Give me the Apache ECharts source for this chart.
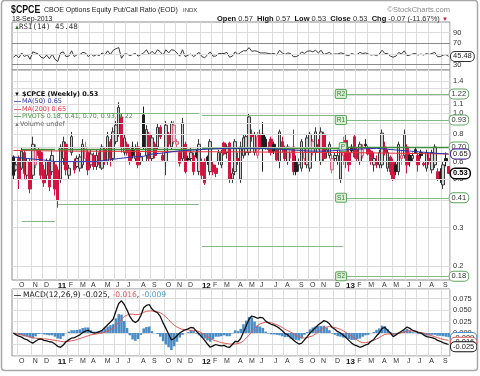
<!DOCTYPE html>
<html><head><meta charset="utf-8">
<script src="https://cdn.jsdelivr.net/npm/echarts@6/dist/echarts.min.js"></script>
<style>html,body{margin:0;padding:0;background:#fff;}#chart{width:480px;height:376px;}</style>
</head><body><div id="chart"></div>
<script>
// ---------------- data ----------------
const firstWeek = '2010-09-17';
const weekCount = 158;
const opens = [.63,.55,.62,.56,.66,.52,.60,.52,.58,.68, .66,.55,.52,.60,.54,.58,.55,.50,.62,.72, .52,.66,.60,.57,.56,.58,.62,.66,.58,.64,
 .57,.66,.56,.68,.60,.74,.62,.74,.80,.96, .66,.72,.68,.70,.62,.70,.60,.98,.64,.80, .62,.72,.70,.86,.64,.60,.80,.70,.74,.72,
 .66,.62,.72,.62,.62,.64,.66,.54,.60,.60, .63,.54,.58,.56,.60,.58,.73,.66,.73,.50, .54,.62,.50,.64,.66,.66,.80,.66,.64,.80,
 .80,.76,.70,.76,.72,.68,.60,.74,.69,.60, .66,.70,.60,.58,.56,.62,.58,.56,.66,.66, .72,.60,.80,.66,.64,.55,.62,.60,.50,.64,
 .75,.66,.70,.78,.68,.60,.64,.72,.69,.67, .58,.60,.58,.58,.70,.56,.63,.60,.58,.54, .62,.64,.70,.64,.62,.68,.64,.66,.59,.56,
 .62,.55,.58,.54,.54,.47,.62,.57];
const highs = [.64,.60,.64,.70,.68,.62,.62,.78,.72,.70, .68,.58,.62,.62,.68,.60,.57,.72,.78,.74, .58,.82,.62,.64,.65,.76,.74,.68,.68,.66,
 .68,.68,.72,.70,.82,.76,.86,.92,1.12,1.00, .80,.74,.70,.74,.72,.74,.66,1.07,.88,.82, .80,.74,.90,.88,.66,.92,.82,.92,.92,.76,
 .68,.95,.74,.64,.70,.66,.68,.76,.62,.62, .64,.76,.60,.58,.68,.68,.74,.72,.74,.56, .76,.66,.74,.80,.80,.99,.84,.82,.82,.84,
 .91,.78,.74,.78,.74,.70,.84,.78,.71,.72, .70,.84,.64,.62,.76,.70,.80,.82,.76,.86, .76,.86,.82,.70,.74,.65,.66,.68,.72,.78,
 .80,.70,.72,.80,.70,.74,.72,.76,.71,.68, .66,.64,.68,.84,.74,.68,.64,.62,.60,.74, .68,.84,.72,.66,.66,.70,.66,.68,.60,.68,
 .66,.68,.72,.56,.56,.60,.66,.57];
const lows = [.50,.54,.45,.55,.50,.50,.43,.50,.56,.62, .50,.46,.50,.44,.52,.42,.37,.48,.58,.52, .50,.64,.53,.56,.54,.56,.60,.52,.56,.55,
 .55,.56,.55,.58,.58,.57,.60,.72,.78,.66, .64,.64,.58,.62,.60,.56,.58,.68,.60,.60, .60,.62,.68,.76,.60,.52,.70,.68,.72,.70,
 .57,.60,.53,.60,.60,.52,.62,.52,.50,.47, .58,.52,.52,.51,.58,.56,.64,.62,.48,.48, .52,.58,.48,.62,.64,.64,.74,.64,.62,.68,
 .54,.68,.66,.64,.65,.60,.56,.66,.60,.58, .62,.52,.52,.54,.54,.58,.56,.54,.64,.60, .68,.58,.60,.62,.62,.53,.60,.58,.48,.58,
 .56,.54,.66,.62,.60,.58,.62,.70,.64,.58, .54,.56,.56,.56,.64,.54,.52,.49,.52,.52, .58,.62,.53,.57,.60,.65,.54,.62,.57,.54,
 .58,.53,.56,.49,.48,.45,.57,.53];
const closes = [.52,.58,.50,.67,.53,.60,.45,.72,.68,.64, .52,.48,.60,.46,.64,.45,.40,.70,.74,.55, .56,.78,.55,.62,.63,.72,.70,.55,.65,.57,
 .64,.58,.70,.60,.78,.62,.82,.88,1.06,.70, .77,.66,.60,.64,.68,.58,.63,.70,.84,.62, .77,.64,.86,.78,.61,.88,.72,.90,.88,.74,
 .59,.90,.54,.61,.66,.54,.63,.72,.52,.48, .60,.74,.54,.53,.66,.66,.65,.70,.50,.53, .74,.60,.70,.77,.78,.96,.78,.80,.78,.70,
 .70,.70,.68,.66,.67,.61,.82,.70,.62,.70, .68,.54,.54,.60,.74,.66,.77,.80,.74,.82, .70,.82,.62,.68,.72,.62,.64,.64,.70,.66,
 .60,.58,.67,.63,.62,.72,.68,.71,.65,.60, .62,.58,.66,.81,.66,.66,.54,.50,.54,.72, .64,.80,.58,.60,.64,.66,.58,.64,.58,.66,
 .60,.66,.70,.50,.50,.58,.60,.53];
const rsi14 = [44,48,43,52,45,49,40,54,52,50, 44,42,48,41,50,40,36,52,54,45, 46,56,45,49,49,53,52,45,50,46,
 49,47,52,48,56,49,57,60,62,42, 50,50,47,49,51,46,49,52,58,49, 55,50,58,54,48,58,52,58,57,52,
 46,58,45,48,50,45,49,53,45,43, 48,54,46,46,51,51,51,53,44,46, 54,49,53,56,56,62,55,56,55,52,
 52,52,51,50,51,48,57,52,49,52, 51,45,45,48,54,51,55,56,54,57, 52,57,49,51,53,49,50,50,52,51,
 48,47,51,49,49,53,51,52,50,48, 49,47,50,57,51,51,46,44,46,53, 50,56,47,48,50,51,48,50,48,51,
 49,51,53,45,45,48,49,45.48];
const macdLine = [0.000,-0.004,-0.007,-0.009,-0.013,-0.015,-0.019,-0.022,-0.018,-0.014,
 -0.013,-0.016,-0.017,-0.019,-0.020,-0.024,-0.029,-0.031,-0.026,-0.019,
 -0.015,-0.011,-0.010,-0.007,-0.004,0.001,0.004,0.006,0.002,0.000,
 0.001,0.003,0.006,0.012,0.018,0.024,0.030,0.048,0.064,0.070,
 0.062,0.050,0.036,0.027,0.023,0.027,0.038,0.055,0.060,0.062,
 0.052,0.047,0.044,0.036,0.022,0.010,-0.002,-0.015,-0.012,-0.006,
 0.000,0.004,0.007,0.009,0.012,0.011,0.004,-0.002,-0.009,-0.016,
 -0.024,-0.031,-0.028,-0.025,-0.027,-0.028,-0.027,-0.030,-0.031,-0.025,
 -0.018,-0.019,-0.012,0.002,0.016,0.030,0.037,0.035,0.032,0.034,
 0.033,0.026,0.022,0.019,0.017,0.014,0.010,0.005,-0.001,-0.004,
 -0.010,-0.015,-0.020,-0.024,-0.022,-0.015,-0.008,0.000,0.006,0.012,
 0.018,0.022,0.027,0.025,0.020,0.012,0.008,0.003,0.000,-0.005,
 -0.010,-0.016,-0.022,-0.026,-0.028,-0.031,-0.029,-0.026,-0.024,-0.018,
 -0.014,-0.006,0.000,0.010,0.012,0.006,0.000,-0.008,-0.004,0.000,
 0.004,0.008,0.013,0.010,0.006,0.004,0.001,0.000,-0.004,-0.008,
 -0.009,-0.010,-0.012,-0.016,-0.018,-0.021,-0.023,-0.025];
const signalLine = [0.000,-0.001,-0.003,-0.004,-0.006,-0.007,-0.009,-0.010,-0.011,-0.012,
 -0.012,-0.013,-0.013,-0.014,-0.015,-0.016,-0.017,-0.018,-0.019,-0.019,
 -0.018,-0.017,-0.016,-0.014,-0.012,-0.010,-0.008,-0.006,-0.004,-0.003,
 -0.002,-0.001,0.000,0.002,0.004,0.007,0.011,0.016,0.023,0.030,
 0.036,0.039,0.041,0.041,0.040,0.040,0.042,0.045,0.047,0.048,
 0.048,0.047,0.046,0.044,0.040,0.035,0.029,0.022,0.017,0.013,
 0.010,0.008,0.007,0.007,0.006,0.006,0.005,0.003,0.000,-0.004,
 -0.008,-0.012,-0.015,-0.017,-0.019,-0.021,-0.022,-0.023,-0.024,-0.024,
 -0.024,-0.023,-0.021,-0.017,-0.011,-0.005,0.003,0.010,0.016,0.020,
 0.022,0.023,0.023,0.022,0.020,0.018,0.015,0.012,0.008,0.005,
 0.002,-0.001,-0.005,-0.008,-0.010,-0.011,-0.010,-0.008,-0.006,-0.002,
 0.003,0.007,0.011,0.013,0.014,0.013,0.012,0.010,0.008,0.005,
 0.001,-0.003,-0.007,-0.011,-0.015,-0.019,-0.021,-0.021,-0.020,-0.018,
 -0.016,-0.013,-0.010,-0.006,-0.003,-0.002,-0.002,-0.003,-0.002,-0.001,
 0.001,0.002,0.004,0.005,0.004,0.003,0.002,0.001,0.000,-0.002,
 -0.004,-0.006,-0.008,-0.010,-0.012,-0.014,-0.015,-0.016];
const ma50Weeks = [0,5,11,15,19,24,29,34,38,43,47,50,54,59,65,71,77,83,89,95,101,107,113,119,125,131,138,143,147,151,157];
const ma50Vals  = [.63,.62,.61,.60,.60,.60,.60,.61,.62,.63,.635,.65,.657,.67,.678,.685,.69,.69,.69,.685,.678,.67,.67,.678,.685,.69,.678,.67,.664,.657,.65];
const ma200Weeks = [0,20,40,60,80,100,120,140,157];
const ma200Vals  = [.675,.67,.668,.666,.665,.662,.66,.655,.65];
const pivotStart = ['2010-10-08','2011-01-07','2012-01-06','2013-01-04'];
const pivotEnd   = ['2010-12-31','2011-12-30','2012-12-28','2013-09-20'];
const pivotNames = ['R2','R1','P','S1','S2'];
const pivotR2 = [null, null, null, 1.22];
const pivotR1 = [null, 1.00, 0.98, 0.93];
const pivotP  = [0.68, 0.685, 0.69, 0.70];
const pivotS1 = [0.322, 0.384, 0.247, 0.41];
const pivotS2 = [null, null, null, 0.18];
const priceTicks = [0.2,0.3,0.4,0.5,0.6,0.7,0.8,0.9,1.0,1.1,1.2,1.3,1.4];
const priceTickLabels = ['0.2','0.3','','0.5','0.6','','0.8','','1.0','1.1','','','1.4'];
const rsiTickLabels = [90,70,30];
const lastRsi = 45.48, lastClose = 0.53, lastMa50 = 0.65, lastMa200 = 0.65;
const lastMacd = -0.025, lastSignal = -0.016, lastHist = -0.009;
const monthLetters = 'JFMAMJJASOND';

// ---------------- build ----------------
const arial = '"Liberation Sans", Arial, sans-serif';
const sans = '"DejaVu Sans", Verdana, sans-serif';
const mono = '"DejaVu Sans Mono", monospace';
const t0 = Date.parse(firstWeek + 'T00:00:00Z');
const dates = [];
for (let i = 0; i < weekCount; i++) dates.push(new Date(t0 + i * 7 * 86400000).toISOString().slice(0, 10));
const isMonthStart = dates.map((d, i) => i > 0 && d.slice(5, 7) !== dates[i - 1].slice(5, 7));
const HIDDEN = 'rgba(0,0,0,0)';

function styleFor(i) {
  const o = opens[i], c = closes[i];
  const hollow = c > o;
  const black = i === 0 ? true : c >= closes[i - 1];
  let fill, border;
  if (hollow && black) { fill = '#d2d2d2'; border = '#3a3a3a'; }
  else if (hollow) { fill = '#f7d3dc'; border = '#e2627f'; }
  else if (black) { fill = '#1e1e1e'; border = '#1e1e1e'; }
  else { fill = '#d3163f'; border = '#d3163f'; }
  return { color: fill, color0: fill, borderColor: border, borderColor0: border, borderWidth: 1 };
}
const candleData = dates.map((d, i) => ({ value: [opens[i], closes[i], lows[i], highs[i]], itemStyle: styleFor(i) }));
const histData = macdLine.map((m, i) => +(m - signalLine[i]).toFixed(4));

function boxStyle(text, border, over) {
  return Object.assign({ show: true, position: 'end', distance: 1, formatter: text, color: '#222', fontSize: 7.5, fontFamily: arial,
    backgroundColor: '#fff', borderColor: border, borderWidth: 1, borderRadius: 4, padding: [0, 2, 0, 2], lineHeight: 9 }, over || {});
}
function boxLabel(v, text, border, over) {
  return { yAxis: v, lineStyle: { color: HIDDEN, width: 0 }, label: boxStyle(text, border, over) };
}

const pivotSets = [pivotR2, pivotR1, pivotP, pivotS1, pivotS2];
const pivotLines = [];
for (let k = 0; k < pivotStart.length; k++) {
  pivotSets.forEach((arr, j) => {
    const v = arr[k];
    if (v == null) return;
    const isP = pivotNames[j] === 'P';
    const current = k === pivotStart.length - 1;
    pivotLines.push([
      { coord: [pivotStart[k], v], lineStyle: { color: isP ? '#3f8f3f' : '#86b886', width: isP ? 1.3 : 1, type: 'solid' },
        label: current ? boxStyle(v.toFixed(2), '#5ea55e', { color: '#333' }) : { show: false } },
      { coord: [pivotEnd[k], v] }
    ]);
    if (current) {
      pivotLines.push([
        { coord: [pivotStart[k], v], lineStyle: { color: HIDDEN, width: 0 },
          label: { show: true, position: 'start', distance: 0, formatter: pivotNames[j], color: '#3a7a3a', fontSize: 6.5, fontFamily: arial,
            backgroundColor: '#d9efd4', borderColor: '#5ea55e', borderWidth: 1, borderRadius: 1, padding: [0, 1, 0, 1], lineHeight: 8 } },
        { coord: [pivotEnd[k], v] }
      ]);
    }
  });
}

function xAxisFor(gi, showLabels) {
  return {
    type: 'category', gridIndex: gi, data: dates, boundaryGap: true,
    axisLine: { show: false }, axisTick: { show: false },
    axisLabel: showLabels ? {
      show: true, interval: 0, hideOverlap: false,
      formatter: (v, i) => { if (!isMonthStart[i]) return ''; const m = +v.slice(5, 7); return m === 1 ? '{y|' + v.slice(2, 4) + '}' : monthLetters[m - 1]; },
      fontSize: 7, fontFamily: arial, color: '#333', margin: 2, align: 'left',
      rich: { y: { fontSize: 8, fontWeight: 'bold', fontFamily: arial, color: '#111' } }
    } : { show: false },
    splitLine: { show: true, interval: (i) => isMonthStart[i], lineStyle: { color: '#dcdcdc', width: 1 } }
  };
}

const gridBase = { left: 12, width: 438, show: true, borderColor: '#8c8c8c', borderWidth: 1, backgroundColor: '#fff', containLabel: false, outerBoundsMode: 'none' };

const option = {
  animation: false,
  backgroundColor: '#ffffff',
  grid: [
    Object.assign({ top: 22, height: 48 }, gridBase),
    Object.assign({ top: 70, height: 210 }, gridBase),
    Object.assign({ top: 289, height: 67 }, gridBase)
  ],
  xAxis: [xAxisFor(0, false), xAxisFor(1, true), xAxisFor(2, true)],
  yAxis: [
    { type: 'value', gridIndex: 0, position: 'right', min: 20, max: 110, interval: 10,
      axisLine: { show: false }, axisTick: { show: false }, splitLine: { show: false },
      axisLabel: { formatter: (v) => rsiTickLabels.includes(v) ? String(v) : '', fontSize: 7.5, fontFamily: arial, color: '#333', margin: 3 } },
    { type: 'log', gridIndex: 1, position: 'right', min: 0.173, max: 1.571,
      axisLine: { show: false }, axisTick: { show: false }, splitLine: { show: false }, axisLabel: { show: false } },
    { type: 'value', gridIndex: 2, position: 'right', min: -0.05, max: 0.0957, interval: 0.025,
      axisLine: { show: false }, axisTick: { show: false },
      splitLine: { show: true, lineStyle: { color: '#dcdcdc' } },
      axisLabel: { formatter: (v) => (v > -0.001 && v < 0.09) ? v.toFixed(3) : '', fontSize: 7.5, fontFamily: arial, color: '#333', margin: 3 } }
  ],
  series: [
    { type: 'line', name: 'RSI', xAxisIndex: 0, yAxisIndex: 0, data: rsi14, showSymbol: false, smooth: false,
      lineStyle: { color: '#3a3a3a', width: 1 }, z: 3,
      markLine: { symbol: 'none', silent: true, animation: false, data: [
        { yAxis: 90, lineStyle: { color: '#dcdcdc', width: 1, type: 'solid' }, label: { show: false } },
        { yAxis: 50, lineStyle: { color: '#dcdcdc', width: 1, type: 'solid' }, label: { show: false } },
        { yAxis: 70, lineStyle: { color: '#8a8a8a', width: 1, type: 'solid' }, label: { show: false } },
        { yAxis: 30, lineStyle: { color: '#8a8a8a', width: 1, type: 'solid' }, label: { show: false } },
        boxLabel(lastRsi, lastRsi.toFixed(2), '#333')
      ] } },
    { type: 'line', name: 'grid', xAxisIndex: 1, yAxisIndex: 1, data: [], z: 1, silent: true,
      markLine: { symbol: 'none', silent: true, animation: false, data: priceTicks.map((v, k) => ({
        yAxis: v, lineStyle: { color: '#dcdcdc', width: 1, type: 'solid' },
        label: { show: priceTickLabels[k] !== '', position: 'end', distance: 3, formatter: priceTickLabels[k] || ' ', color: '#333', fontSize: 7.5, fontFamily: arial }
      })) } },
    { type: 'candlestick', name: '$CPCE', xAxisIndex: 1, yAxisIndex: 1, data: candleData, barWidth: 3, z: 2,
      markLine: { symbol: 'none', silent: true, animation: false, data: pivotLines } },
    { type: 'line', name: 'MA(200)', xAxisIndex: 1, yAxisIndex: 1, data: ma200Weeks.map((w, k) => [dates[w], ma200Vals[k]]),
      showSymbol: false, smooth: false, lineStyle: { color: '#e8323c', width: 1 }, z: 4,
      markLine: { symbol: 'none', silent: true, animation: false, data: [ boxLabel(lastMa200, lastMa200.toFixed(2), '#e8323c') ] } },
    { type: 'line', name: 'MA(50)', xAxisIndex: 1, yAxisIndex: 1, data: ma50Weeks.map((w, k) => [dates[w], ma50Vals[k]]),
      showSymbol: false, smooth: false, lineStyle: { color: '#2a36a8', width: 1 }, z: 5,
      markLine: { symbol: 'none', silent: true, animation: false, data: [
        boxLabel(lastMa50, lastMa50.toFixed(2), '#2a36a8'),
        boxLabel(lastClose, lastClose.toFixed(2), '#000', { color: '#000', fontWeight: 'bold', borderWidth: 1.5 })
      ] } },
    { type: 'bar', name: 'Hist', xAxisIndex: 2, yAxisIndex: 2, data: histData, barCategoryGap: '8%',
      itemStyle: { color: '#4a8cc6' }, z: 2,
      markLine: { symbol: 'none', silent: true, animation: false, data: [ boxLabel(lastHist, lastHist.toFixed(3), '#4a8cc6') ] } },
    { type: 'line', name: 'Signal', xAxisIndex: 2, yAxisIndex: 2, data: signalLine, showSymbol: false, smooth: false,
      lineStyle: { color: '#e05858', width: 1 }, z: 3,
      markLine: { symbol: 'none', silent: true, animation: false, data: [ boxLabel(lastSignal, lastSignal.toFixed(3), '#e05858') ] } },
    { type: 'line', name: 'MACD', xAxisIndex: 2, yAxisIndex: 2, data: macdLine, showSymbol: false, smooth: false,
      lineStyle: { color: '#111', width: 1.3 }, z: 4,
      markLine: { symbol: 'none', silent: true, animation: false, data: [ boxLabel(lastMacd, lastMacd.toFixed(3), '#111') ] } }
  ],
  graphic: [
    { type: 'rect', silent: true, z: 100, shape: { x: 1.5, y: 0.5, width: 476, height: 370, r: 3 }, style: { fill: 'none', stroke: '#a8a8a8', lineWidth: 1.5 } },
    { type: 'text', x: 11, y: 10, scaleX: 0.8, z: 100, style: { text: '$CPCE', font: 'bold 11px ' + arial, fill: '#111', textVerticalAlign: 'middle', verticalAlign: 'middle' } },
    { type: 'text', x: 44, y: 10, z: 100, style: { text: 'CBOE Options Equity Put/Call Ratio (EOD)', font: '7px ' + arial, fill: '#222', textVerticalAlign: 'middle', verticalAlign: 'middle' } },
    { type: 'text', x: 183, y: 10, z: 100, style: { text: 'INDX', font: '6px ' + arial, fill: '#333', textVerticalAlign: 'middle', verticalAlign: 'middle' } },
    { type: 'text', x: 450, y: 10, z: 100, style: { text: '©StockCharts.com', font: '7.5px ' + arial, fill: '#8a8a8a', textAlign: 'right', align: 'right', textVerticalAlign: 'middle', verticalAlign: 'middle' } },
    { type: 'text', x: 12, y: 19, z: 100, style: { text: '18-Sep-2013', font: '7px ' + arial, fill: '#222', textVerticalAlign: 'middle', verticalAlign: 'middle' } },
    { type: 'text', x: 217, y: 19, z: 100, style: {
      text: '{b|Open} 0.57  {b|High} 0.57  {b|Low} 0.53  {b|Close} 0.53  {b|Chg} -0.07 (-11.67%) {r|▼}',
      fontSize: 7.5, fontFamily: arial, fill: '#333', textVerticalAlign: 'middle', verticalAlign: 'middle',
      rich: { b: { fontSize: 7.5, fontFamily: arial, fontWeight: 'bold', fill: '#111' }, r: { fontSize: 6, fontFamily: arial, fill: '#d3163f' } } } },
    { type: 'text', x: 14, y: 27, z: 100, style: { text: '▲', font: '6px ' + arial, fill: '#2b6b2b', textVerticalAlign: 'middle', verticalAlign: 'middle' } },
    { type: 'text', x: 19, y: 27, z: 100, style: { text: 'RSI(14) 45.48', font: '7.5px ' + mono, fill: '#333', textVerticalAlign: 'middle', verticalAlign: 'middle' } },
    { type: 'text', x: 14, y: 94, z: 100, style: { text: '▼', font: 'bold 6px ' + arial, fill: '#111', textVerticalAlign: 'middle', verticalAlign: 'middle' } },
    { type: 'text', x: 22, y: 94, z: 100, style: { text: '$CPCE (Weekly) 0.53', font: 'bold 6.5px ' + sans, fill: '#111', textVerticalAlign: 'middle', verticalAlign: 'middle' } },
    { type: 'text', x: 14, y: 101.5, z: 100, style: { text: '—', font: 'bold 7px ' + arial, fill: '#2a36a8', textVerticalAlign: 'middle', verticalAlign: 'middle' } },
    { type: 'text', x: 22, y: 101.5, z: 100, style: { text: 'MA(50) 0.65', font: '6.5px ' + sans, fill: '#2a36a8', textVerticalAlign: 'middle', verticalAlign: 'middle' } },
    { type: 'text', x: 14, y: 109, z: 100, style: { text: '—', font: 'bold 7px ' + arial, fill: '#e8323c', textVerticalAlign: 'middle', verticalAlign: 'middle' } },
    { type: 'text', x: 22, y: 109, z: 100, style: { text: 'MA(200) 0.65', font: '6.5px ' + sans, fill: '#e8323c', textVerticalAlign: 'middle', verticalAlign: 'middle' } },
    { type: 'text', x: 14, y: 116.5, z: 100, style: { text: '—', font: 'bold 7px ' + arial, fill: '#3f8f3f', textVerticalAlign: 'middle', verticalAlign: 'middle' } },
    { type: 'text', x: 22, y: 116.5, z: 100, style: { text: 'PIVOTS 0.18, 0.41, 0.70, 0.93, 1.22', font: '6.3px ' + sans, fill: '#3f8f3f', textVerticalAlign: 'middle', verticalAlign: 'middle' } },
    { type: 'text', x: 14, y: 124, z: 100, style: { text: '▲', font: '6px ' + arial, fill: '#777', textVerticalAlign: 'middle', verticalAlign: 'middle' } },
    { type: 'text', x: 20, y: 124, z: 100, style: { text: 'Volume undef', font: '6.5px ' + sans, fill: '#666', textVerticalAlign: 'middle', verticalAlign: 'middle' } },
    { type: 'text', x: 14, y: 295, z: 100, style: { text: '—', font: 'bold 7px ' + arial, fill: '#111', textVerticalAlign: 'middle', verticalAlign: 'middle' } },
    { type: 'text', x: 23, y: 295, z: 100, style: {
      text: 'MACD(12,26,9) -0.025, {r|-0.016}, {b|-0.009}', fontSize: 7.6, fontFamily: sans, fill: '#222', textVerticalAlign: 'middle', verticalAlign: 'middle',
      rich: { r: { fontSize: 7.6, fontFamily: sans, fill: '#e05858' }, b: { fontSize: 7.6, fontFamily: sans, fill: '#4a9ad6' } } } }
  ]
};

const chart = echarts.init(document.getElementById('chart'), null, { renderer: 'canvas' });
chart.setOption(option);
</script>
</body></html>
